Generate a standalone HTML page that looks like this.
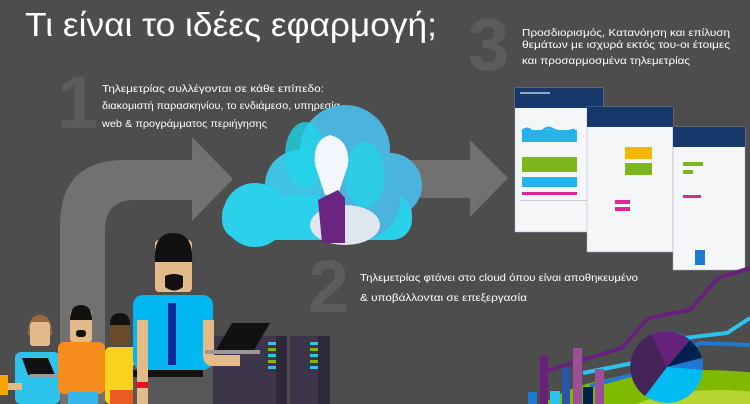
<!DOCTYPE html>
<html><head><meta charset="utf-8"><style>
html,body{margin:0;padding:0;background:#4d4d4d;width:750px;height:404px;overflow:hidden;}
svg{display:block;font-family:"Liberation Sans",sans-serif;}
</style></head><body>
<svg width="750" height="404" viewBox="0 0 750 404" xmlns="http://www.w3.org/2000/svg">
<rect width="750" height="404" fill="#4d4d4d"/>
<text x="468" y="70" font-size="74" font-weight="bold" fill="#5c5c5c">3</text>
<text x="57" y="128" font-size="74" font-weight="bold" fill="#5c5c5c">1</text>
<text x="308" y="312" font-size="74" font-weight="bold" fill="#5c5c5c">2</text>
<text x="25" y="36" font-size="33" fill="#fff" textLength="412" lengthAdjust="spacingAndGlyphs">Τι είναι το ιδέες εφαρμογή;</text>
<g font-size="10.5" fill="#fff">
<text x="522" y="36" textLength="208" lengthAdjust="spacingAndGlyphs">Προσδιορισμός, Κατανόηση και επίλυση</text>
<text x="522" y="48" textLength="208" lengthAdjust="spacingAndGlyphs">θεμάτων με ισχυρά εκτός του-οι έτοιμες</text>
<text x="522" y="64" textLength="168" lengthAdjust="spacingAndGlyphs">και προσαρμοσμένα τηλεμετρίας</text>
<text x="102" y="92" textLength="222" lengthAdjust="spacingAndGlyphs">Τηλεμετρίας συλλέγονται σε κάθε επίπεδο:</text>
<text x="102" y="109" textLength="238" lengthAdjust="spacingAndGlyphs">διακομιστή παρασκηνίου, το ενδιάμεσο, υπηρεσία</text>
<text x="102" y="127" textLength="165" lengthAdjust="spacingAndGlyphs">web &amp; προγράμματος περιήγησης</text>
<text x="360" y="281" textLength="278" lengthAdjust="spacingAndGlyphs">Τηλεμετρίας φτάνει στο cloud όπου είναι αποθηκευμένο</text>
<text x="360" y="301" textLength="167" lengthAdjust="spacingAndGlyphs">&amp; υποβάλλονται σε επεξεργασία</text>
</g>
<path d="M60 404 L60 225 Q60 160 125 160 L192 160 L192 137 L233 179 L192 221 L192 200 L135 200 Q105 200 105 230 L105 404 Z" fill="#717171"/>
<path d="M400 160 L470 160 L470 140 L508 178 L470 217 L470 198 L400 198 Z" fill="#717171"/>
<g>
<circle cx="345" cy="150" r="45" fill="#4ab4de"/>
<circle cx="390" cy="185" r="32" fill="#4ab4de"/>
<circle cx="300" cy="185" r="35" fill="#3ec3e4"/>
<circle cx="255" cy="215" r="32" fill="#2bd0ea"/>
<rect x="222" y="195" width="190" height="45" rx="20" fill="#2bd0ea"/>
<circle cx="360" cy="200" r="40" fill="#4ab4de"/>
<ellipse cx="345" cy="225" rx="35" ry="20" fill="#dfe6ee"/>
<ellipse cx="305" cy="155" rx="20" ry="33" fill="#1fd5e8" opacity=".8"/>
<ellipse cx="365" cy="175" rx="20" ry="33" fill="#1fd5e8" opacity=".7"/>
<path d="M330 135 Q312 140 315 165 Q320 180 325 195 L338 195 Q343 180 348 165 Q350 140 330 135 Z" fill="#f4f6ff"/>
<path d="M318 200 L328 195 L338 190 L345 198 L345 243 L322 243 Z" fill="#6a2482"/>
</g>
<g>
<rect x="515" y="88" width="88" height="144" fill="#f4f6f8" stroke="#aac" stroke-width=".5"/>
<rect x="515" y="88" width="88" height="20" fill="#16386a"/>
<rect x="520" y="92" width="30" height="2" fill="#8fa8cc"/>
<rect x="522" y="130" width="55" height="12" fill="#26b3ea"/>
<path d="M522 132 q5 -6 10 0 t10 0 t10 -3 t10 3 t13 -2" fill="none" stroke="#26b3ea" stroke-width="3"/>
<rect x="522" y="157" width="55" height="15" fill="#7db71c"/>
<rect x="522" y="177" width="55" height="10" fill="#26b3ea"/>
<rect x="522" y="192" width="55" height="3" fill="#e0269b"/>
<rect x="520" y="200" width="78" height="1" fill="#ccd"/>
<rect x="587" y="107" width="86" height="145" fill="#f4f6f8" stroke="#aac" stroke-width=".5"/>
<rect x="587" y="107" width="86" height="20" fill="#16386a"/>
<rect x="625" y="147" width="27" height="12" fill="#f7b500"/>
<rect x="625" y="163" width="27" height="12" fill="#7db71c"/>
<rect x="615" y="200" width="15" height="4" fill="#e0269b"/>
<rect x="615" y="207" width="15" height="4" fill="#e0269b"/>
<rect x="673" y="127" width="72" height="143" fill="#f4f6f8" stroke="#aac" stroke-width=".5"/>
<rect x="673" y="127" width="72" height="20" fill="#16386a"/>
<rect x="683" y="162" width="20" height="4" fill="#7db71c"/>
<rect x="683" y="170" width="10" height="4" fill="#7db71c"/>
<rect x="683" y="195" width="18" height="3" fill="#e0269b"/>
<rect x="695" y="250" width="10" height="15" fill="#1f78d1"/>
</g>
<g>
<ellipse cx="700" cy="425" rx="170" ry="55" fill="#7fba00"/>
<ellipse cx="720" cy="430" rx="110" ry="40" fill="#b8d432"/>
<polyline points="540,373 622,348 648,318 690,310 718,278 750,268" fill="none" stroke="#68217a" stroke-width="4"/>
<polyline points="583,373 633,363 650,342 727,333 750,318" fill="none" stroke="#2ec3ec" stroke-width="4"/>
<polyline points="590,386 650,370 700,343 750,345" fill="none" stroke="#1f78d1" stroke-width="4"/>
<circle cx="667" cy="367" r="36" fill="#00bcf2"/>
<path d="M667 367 L652 334 A36 36 0 0 1 690 340 Z" fill="#68217a"/>
<path d="M667 367 L690 340 A36 36 0 0 1 702 358 Z" fill="#002050"/>
<path d="M667 367 L702 358 A36 36 0 0 1 703 370 Z" fill="#1f78d1"/>
<path d="M667 367 L645 396 A36 36 0 0 1 652 334 Z" fill="#442359"/>
<rect x="528" y="392" width="9" height="12" fill="#1f78d1"/>
<rect x="540" y="355" width="8" height="49" fill="#68217a"/>
<rect x="550" y="391" width="10" height="13" fill="#2ec3ec"/>
<rect x="562" y="368" width="8" height="36" fill="#2956a8"/>
<rect x="573" y="348" width="9" height="56" fill="#9b4f96"/>
<rect x="583" y="387" width="10" height="17" fill="#002050"/>
<rect x="595" y="369" width="9" height="35" fill="#9b4f96"/>
</g>
<g>
<rect x="205" y="336" width="82" height="68" fill="#3d3549"/>
<rect x="290" y="336" width="40" height="68" fill="#3d3549"/>
<rect x="276" y="336" width="11" height="68" fill="#2e2838"/>
<rect x="318" y="336" width="12" height="68" fill="#2e2838"/>
<g fill="#2ec3ec"><rect x="268" y="342" width="8" height="3"/><rect x="268" y="354" width="8" height="3"/><rect x="268" y="366" width="8" height="3"/><rect x="310" y="342" width="8" height="3"/><rect x="310" y="354" width="8" height="3"/><rect x="310" y="366" width="8" height="3"/></g>
<g fill="#7fba00"><rect x="268" y="348" width="8" height="3"/><rect x="268" y="360" width="8" height="3"/><rect x="310" y="348" width="8" height="3"/><rect x="310" y="360" width="8" height="3"/></g>
</g>
<g>
<rect x="0" y="375" width="8" height="20" fill="#f7a400"/>
<rect x="15" y="352" width="45" height="52" rx="6" fill="#2ec3ec"/>
<path d="M28 335 Q28 315 40 315 Q52 315 52 335 Z" fill="#9a6a3e"/>
<rect x="30" y="322" width="20" height="24" rx="3" fill="#e3bb8a"/>
<path d="M22 358 L48 358 L55 375 L28 375 Z" fill="#111"/>
<rect x="30" y="374" width="32" height="3" fill="#999"/>
<rect x="8" y="383" width="14" height="7" fill="#e3bb8a"/>
<rect x="58" y="342" width="47" height="52" rx="6" fill="#f78c1e"/>
<rect x="68" y="392" width="30" height="12" fill="#35b6ec"/>
<rect x="70" y="310" width="22" height="32" rx="3" fill="#e3bb8a"/>
<path d="M70 320 Q70 305 81 305 Q92 305 92 320 Z" fill="#111"/>
<rect x="76" y="330" width="10" height="7" rx="3" fill="#111"/>
<rect x="105" y="347" width="35" height="57" rx="5" fill="#f8d21c"/>
<rect x="110" y="390" width="30" height="14" fill="#ec5a24"/>
<rect x="110" y="318" width="20" height="28" rx="6" fill="#6b4a2b"/>
<path d="M110 325 Q110 313 120 313 Q130 313 130 325 Z" fill="#111"/>
<rect x="133" y="365" width="80" height="39" fill="#585858"/>
<rect x="133" y="295" width="80" height="75" rx="10" fill="#00b7f1"/>
<rect x="133" y="370" width="70" height="7" fill="#111"/>
<rect x="137" y="320" width="11" height="84" fill="#e3bb8a"/>
<rect x="136" y="382" width="12" height="6" fill="#e81123"/>
<path d="M203 320 L214 320 L214 355 L240 355 L240 366 L213 366 Q203 366 203 355 Z" fill="#e3bb8a"/>
<path d="M232 323 L270 323 L253 352 L215 352 Z" fill="#111"/>
<rect x="205" y="350" width="55" height="4" fill="#999"/>
<rect x="168" y="303" width="8" height="62" fill="#0a2a9a"/>
<rect x="155" y="240" width="37" height="52" rx="4" fill="#e3bb8a"/>
<path d="M155 262 Q153 233 173 233 Q194 233 192 262 Z" fill="#111"/>
<path d="M165 276 Q174 272 183 276 L183 287 Q174 294 165 287 Z" fill="#111"/>
</g>
</svg>
</body></html>
